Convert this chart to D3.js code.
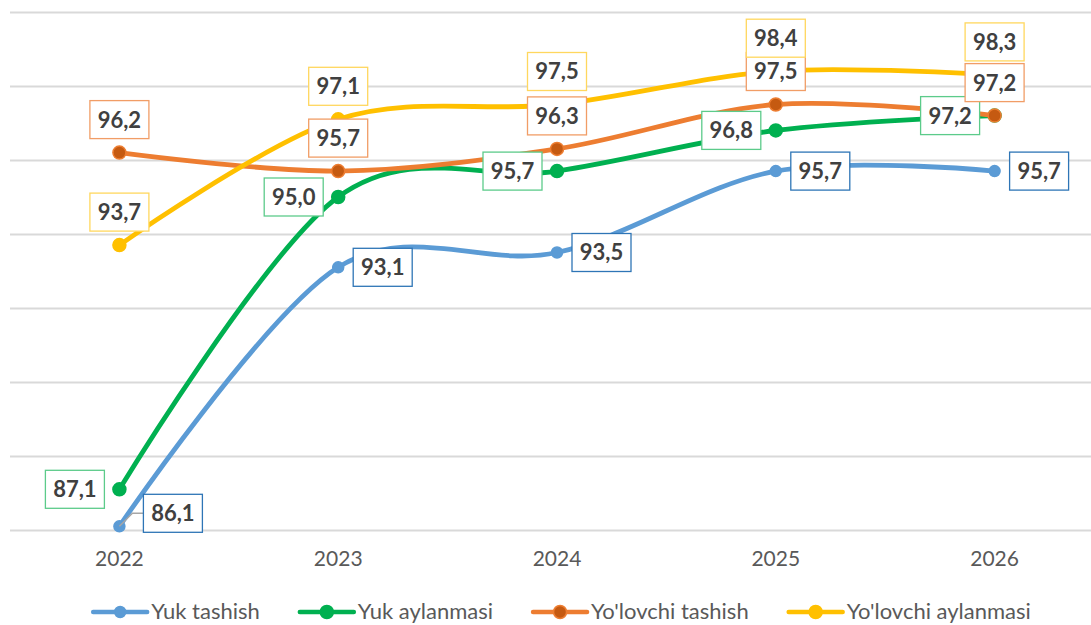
<!DOCTYPE html>
<html>
<head>
<meta charset="utf-8">
<script src="https://cdn.jsdelivr.net/npm/d3@7"></script>
<style>
  html, body { margin: 0; padding: 0; background: #fff; }
  svg { display: block; font-family: Lato, "Open Sans", sans-serif; }
</style>
</head>
<body>
<svg id="chart" width="1091" height="625"></svg>
<script>
const years = ["2022", "2023", "2024", "2025", "2026"];
const seriesNames = ["Yuk tashish", "Yuk aylanmasi", "Yo'lovchi tashish", "Yo'lovchi aylanmasi"];
const yukTashish = [86.1, 93.1, 93.5, 95.7, 95.7];
const yukAylanmasi = [87.1, 95.0, 95.7, 96.8, 97.2];
const yolovchiTashish = [96.2, 95.7, 96.3, 97.5, 97.2];
const yolovchiAylanmasi = [93.7, 97.1, 97.5, 98.4, 98.3];
const yTicks = [86, 88, 90, 92, 94, 96, 98, 100];

const styles = [
  { color: "#5B9BD5", markerFill: "#5B9BD5", markerStroke: "#5B9BD5", r: 5.5, box: "#2E75B6", place: "right" },
  { color: "#00B050", markerFill: "#00B050", markerStroke: "#00B050", r: 6.5, box: "#5CCB8A", place: "left" },
  { color: "#ED7D31", markerFill: "#C55A11", markerStroke: "#ED7D31", r: 6.5, box: "#F19D66", place: "above" },
  { color: "#FFC000", markerFill: "#FFC000", markerStroke: "#FFC000", r: 6.5, box: "#FFD75E", place: "above" }
];
const allValues = [yukTashish, yukAylanmasi, yolovchiTashish, yolovchiAylanmasi];
const series = seriesNames.map((name, i) => ({ name, values: allValues[i], style: styles[i] }));

const svg = d3.select("#chart");
const x = d3.scaleBand().domain(years).range([10, 1104]).padding(0);
const cx = d => x(d) + x.bandwidth() / 2;
const y = d3.scaleLinear().domain([86, 100]).range([530, 12]);

// gridlines
const grid = svg.append("g")
  .attr("transform", "translate(10,0)")
  .call(d3.axisLeft(y).tickValues(yTicks).tickSize(-1100).tickFormat(""));
grid.select(".domain").remove();
grid.selectAll(".tick line").attr("stroke", "#D9D9D9").attr("stroke-width", 2);

// x axis labels
const xAxis = svg.append("g").attr("transform", "translate(0,530)")
  .call(d3.axisBottom(x).tickSize(0).tickPadding(21));
xAxis.select(".domain").remove();
xAxis.selectAll("text").attr("font-size", 21).attr("fill", "#595959")
  .attr("font-family", "Lato, sans-serif");

const line = d3.line()
  .x((d, i) => cx(years[i]))
  .y(d => y(d))
  .curve(d3.curveCatmullRom.alpha(0));

series.forEach(s => {
  const g = svg.append("g");
  g.append("path").datum(s.values)
    .attr("d", line).attr("fill", "none")
    .attr("stroke", s.style.color).attr("stroke-width", 4.8)
    .attr("stroke-linecap", "round").attr("stroke-linejoin", "round");
  g.selectAll("circle").data(s.values).join("circle")
    .attr("cx", (d, i) => cx(years[i])).attr("cy", d => y(d))
    .attr("r", s.style.r)
    .attr("fill", s.style.markerFill)
    .attr("stroke", s.style.markerStroke).attr("stroke-width", 1.5);
});

// data labels
const fmt = v => d3.format(".1f")(v).replace(".", ",");
const bw = 59, bh = 38;
series.forEach((s, si) => {
  const g = svg.append("g");
  s.values.forEach((v, i) => {
    const px = cx(years[i]), py = y(v);
    let lx, ly;
    if (s.style.place === "right") { lx = px + 15 + bw / 2; ly = py; }
    else if (s.style.place === "left") { lx = px - 15 - bw / 2; ly = py; }
    else { lx = px; ly = py - 33; }
    if (si === 0 && i === 0) {
      // moved label with leader line
      lx = px + 24 + bw / 2; ly = py - 13;
      g.append("polyline")
        .attr("points", [[px, py], [px + 13, py - 13], [px + 24, py - 13]].map(p => p.join(",")).join(" "))
        .attr("fill", "none").attr("stroke", "#A6A6A6").attr("stroke-width", 1.5);
    }
    g.append("rect")
      .attr("x", lx - bw / 2).attr("y", ly - bh / 2)
      .attr("width", bw).attr("height", bh)
      .attr("fill", "#fff").attr("stroke", s.style.box).attr("stroke-width", 1.3);
    g.append("text")
      .attr("x", lx).attr("y", ly).attr("dy", "0.36em")
      .attr("text-anchor", "middle")
      .attr("font-size", 22).attr("font-weight", "bold").attr("fill", "#404040")
      .text(fmt(v));
  });
});

// legend
const legend = svg.append("g");
let xpos = 0;
const gap = 40;
series.forEach((s, i) => {
  const it = legend.append("g");
  it.append("line").attr("x1", 0).attr("x2", 54).attr("y1", 0).attr("y2", 0)
    .attr("stroke", s.style.color).attr("stroke-width", 4.5).attr("stroke-linecap", "round");
  it.append("circle").attr("cx", 27).attr("cy", 0).attr("r", s.style.r)
    .attr("fill", s.style.markerFill).attr("stroke", s.style.markerStroke).attr("stroke-width", 1.5);
  const t = it.append("text").attr("x", 58).attr("y", 7)
    .attr("font-size", 22).attr("fill", "#595959").text(s.name);
  const w = 58 + t.node().getComputedTextLength();
  it.attr("transform", `translate(${xpos},612)`);
  xpos += w + gap;
});
const totalW = xpos - gap;
legend.attr("transform", `translate(${562 - totalW / 2},0)`);
</script>
</body>
</html>
